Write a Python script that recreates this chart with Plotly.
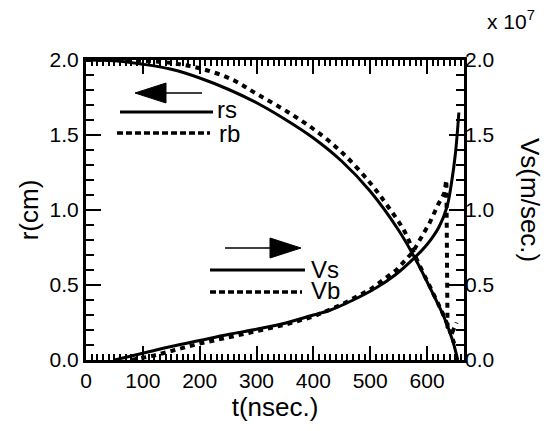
import plotly.graph_objects as go

# ---- data (t in nsec, r in cm, V in 1e7 m/s) ----
t_rs = [0, 50, 100, 150, 200, 250, 300, 350, 400, 450, 500, 550, 580, 610, 630, 645, 654]
r_s = [2.0, 1.995, 1.972, 1.938, 1.88, 1.805, 1.715, 1.605, 1.48, 1.325, 1.125, 0.865, 0.67, 0.445, 0.285, 0.13, 0.0]

t_rb = [0, 50, 100, 150, 200, 257, 300, 350, 400, 450, 500, 530, 560, 582, 610, 630, 645, 650]
r_b = [2.0, 2.0, 1.995, 1.98, 1.945, 1.87, 1.775, 1.665, 1.54, 1.385, 1.18, 1.03, 0.86, 0.67, 0.45, 0.29, 0.14, 0.08]

t_vs = [50, 100, 150, 200, 250, 300, 350, 400, 428, 470, 510, 545, 574, 600, 621, 635, 643, 650, 656]
v_s = [0.0, 0.045, 0.09, 0.13, 0.17, 0.205, 0.245, 0.30, 0.33, 0.40, 0.48, 0.57, 0.667, 0.77, 0.887, 1.02, 1.18, 1.38, 1.65]

t_vb = [80, 120, 160, 200, 250, 300, 350, 400, 450, 500, 546, 575, 604, 620, 630, 634, 636, 645, 652]
v_b = [0.0, 0.03, 0.07, 0.11, 0.15, 0.19, 0.235, 0.29, 0.37, 0.47, 0.60, 0.72, 0.91, 1.04, 1.11, 1.2, 0.22, 0.19, 0.25]

x_major = [0, 100, 200, 300, 400, 500, 600]
x_mid = [50, 150, 250, 350, 450, 550, 650]
x_minor = list(range(0, 670, 10))
y_minor = [i / 10 for i in range(0, 21)]

FONT = "Liberation Sans, Arial, Helvetica, sans-serif"
W, H = 548, 431
L, R, T, B = 86, 464, 60, 360

def px(x):
    return (x - L) / (R - L)

def py(y):
    return (B - y) / (B - T)

fig = go.Figure()
solid = dict(color="black", width=3)
dotted = dict(color="black", width=4, dash="5px,5px")
fig.add_trace(go.Scatter(x=t_rs, y=r_s, mode="lines", line=dict(shape="spline", **solid), name="rs"))
fig.add_trace(go.Scatter(x=t_rb, y=r_b, mode="lines", line=dict(shape="spline", **dotted), name="rb"))
fig.add_trace(go.Scatter(x=t_vs, y=v_s, mode="lines", yaxis="y2", line=dict(shape="spline", **solid), name="Vs"))
fig.add_trace(go.Scatter(x=t_vb, y=v_b, mode="lines", yaxis="y2", line=dict(**dotted), name="Vb"))

tickbase = dict(showgrid=False, zeroline=False, ticks="inside", tickcolor="black")
tfont = dict(family=FONT, size=21, color="black")

fig.update_layout(
    width=W, height=H,
    margin=dict(l=L, r=W - R, t=T, b=H - B),
    paper_bgcolor="white", plot_bgcolor="white",
    showlegend=False,
    xaxis=dict(range=[0, 665], tickvals=x_major, ticktext=[str(v) for v in x_major],
               ticklen=14, tickwidth=2, showline=True, linewidth=3, linecolor="black", mirror="ticks",
               minor=dict(tickvals=x_minor, ticklen=6, tickwidth=2, ticks="inside", tickcolor="black"),
               title=dict(text="t(nsec.)", font=dict(family=FONT, size=26, color="black"), standoff=0),
               tickfont=tfont, **tickbase),
    xaxis2=dict(range=[0, 665], overlaying="x", anchor="y", tickvals=x_mid, ticklen=10, tickwidth=2,
                showticklabels=False, showline=False, mirror="ticks", **tickbase),
    yaxis=dict(range=[0, 2.0], dtick=0.5, tickformat=".1f", ticklen=15, tickwidth=2,
               showline=True, linewidth=3, linecolor="black", mirror="ticks",
               minor=dict(tickvals=y_minor, ticklen=8, tickwidth=2, ticks="inside", tickcolor="black"),
               title=dict(text="r(cm)", font=dict(family=FONT, size=26, color="black"), standoff=4),
               tickfont=tfont, **tickbase),
    yaxis2=dict(range=[0, 2.0], dtick=0.5, tickformat=".1f", overlaying="y", side="right", anchor="x",
                ticklen=15, tickwidth=2, showline=False,
                minor=dict(tickvals=y_minor, ticklen=8, tickwidth=2, ticks="inside", tickcolor="black"),
                tickfont=tfont, **tickbase),
)

# legend decorations (paper coordinates)
shapes = []
ann = []
# left arrow (r curves)
shapes.append(dict(type="line", xref="paper", yref="paper", x0=px(163), x1=px(202), y0=py(93), y1=py(93),
                   line=dict(color="black", width=1.5)))
shapes.append(dict(type="path", xref="paper", yref="paper",
                   path=f"M {px(135)} {py(93)} L {px(166)} {py(83)} L {px(166)} {py(103)} Z",
                   fillcolor="black", line=dict(color="black", width=1)))
shapes.append(dict(type="line", xref="paper", yref="paper", x0=px(120), x1=px(213), y0=py(112), y1=py(112),
                   line=dict(color="black", width=3)))
shapes.append(dict(type="line", xref="paper", yref="paper", x0=px(117), x1=px(210), y0=py(133), y1=py(133),
                   line=dict(color="black", width=3.5, dash="6px,3px")))
# right arrow (V curves)
shapes.append(dict(type="line", xref="paper", yref="paper", x0=px(225), x1=px(272), y0=py(248), y1=py(248),
                   line=dict(color="black", width=1.5)))
shapes.append(dict(type="path", xref="paper", yref="paper",
                   path=f"M {px(301)} {py(248)} L {px(270)} {py(238)} L {px(270)} {py(258)} Z",
                   fillcolor="black", line=dict(color="black", width=1)))
shapes.append(dict(type="line", xref="paper", yref="paper", x0=px(210), x1=px(305), y0=py(270), y1=py(270),
                   line=dict(color="black", width=3)))
shapes.append(dict(type="line", xref="paper", yref="paper", x0=px(210), x1=px(302), y0=py(292), y1=py(292),
                   line=dict(color="black", width=3.5, dash="6px,3px")))

def label(text, x, y, size=24, xanchor="left", angle=0):
    ann.append(dict(text=text, xref="paper", yref="paper", x=px(x), y=py(y), showarrow=False,
                    xanchor=xanchor, yanchor="middle", textangle=angle,
                    font=dict(family=FONT, size=size, color="black")))

label("rs", 215, 109)
label("rb", 217, 133)
label("Vs", 309, 269)
label("Vb", 309, 290)
label("x 10<sup>7</sup>", 485, 20, size=21)
label("Vs(m/sec.)", 530, 200, size=26, xanchor="center", angle=90)

fig.update_layout(shapes=shapes, annotations=ann)
fig.write_html("out.html")
